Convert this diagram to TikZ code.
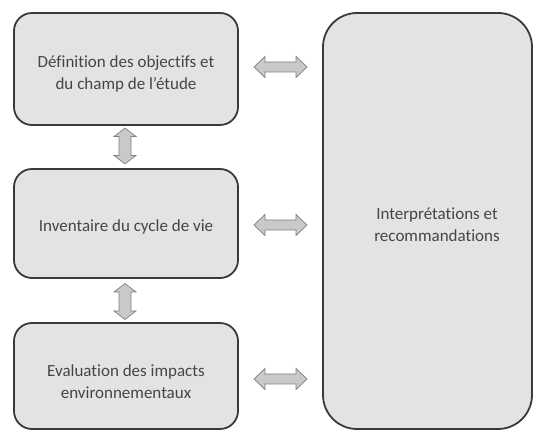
\documentclass[tikz,border=0pt]{standalone}
\usepackage{fontspec}
\setmainfont[Ligatures={NoCommon}]{Carlito}
\definecolor{boxfill}{HTML}{E3E3E3}
\definecolor{boxdraw}{HTML}{3A3A3A}
\definecolor{txt}{HTML}{454545}
\definecolor{arrfill}{HTML}{C9C9C9}
\definecolor{arrdraw}{HTML}{808080}
% horizontal double block arrow centred at (#1,#2): length 53, head width 21, shaft 10, head length 11
\newcommand{\hblockarrow}[2]{%
  \filldraw[blockarrow, shift={(#1,#2)}]
    (-26.5,0) -- (-15.5,-10.5) -- (-15.5,-5) -- (15.5,-5) -- (15.5,-10.5) -- (26.5,0)
    -- (15.5,10.5) -- (15.5,5) -- (-15.5,5) -- (-15.5,10.5) -- cycle;}
\newcommand{\vblockarrow}[2]{%
  \filldraw[blockarrow, shift={(#1,#2)}]
    (0,-18) -- (-11,-9.5) -- (-6,-9.5) -- (-6,9.5) -- (-11,9.5) -- (0,18)
    -- (11,9.5) -- (6,9.5) -- (6,-9.5) -- (11,-9.5) -- cycle;}
\begin{document}
\begin{tikzpicture}[x=1pt,y=-1pt,
  stagebox/.style={draw=boxdraw, line width=1.8pt, fill=boxfill, rounded corners=18pt, inner sep=0pt},
  stagetext/.style={text=txt, align=center, font=\fontsize{17}{22}\selectfont, inner sep=0pt},
  blockarrow/.style={draw=arrdraw, fill=arrfill, line width=0.7pt, line join=miter},
]
\useasboundingbox (0,0) rectangle (536,430);
\node[stagebox, minimum width=224pt, minimum height=112pt] (def) at (126,69) {};
\node[stagetext] (deft) at (126,74) {Définition des objectifs et\\du champ de l’étude};
\node[stagebox, minimum width=224pt, minimum height=109pt] (inv) at (126,223.5) {};
\node[stagetext] (invt) at (126,226.5) {Inventaire du cycle de vie};
\node[stagebox, minimum width=224pt, minimum height=106pt] (eva) at (126,376) {};
\node[stagetext] (evat) at (126,382) {Evaluation des impacts\\environnementaux};
\node[stagebox, rounded corners=34pt, minimum width=209pt, minimum height=416pt] (int) at (427.5,221) {};
\node[stagetext] (intt) at (437,224.5) {Interprétations et\\recommandations};
\hblockarrow{280.5}{67}
\hblockarrow{280.5}{225}
\hblockarrow{280.5}{379}
\vblockarrow{125}{146}
\vblockarrow{125}{301.5}
\end{tikzpicture}
\end{document}
